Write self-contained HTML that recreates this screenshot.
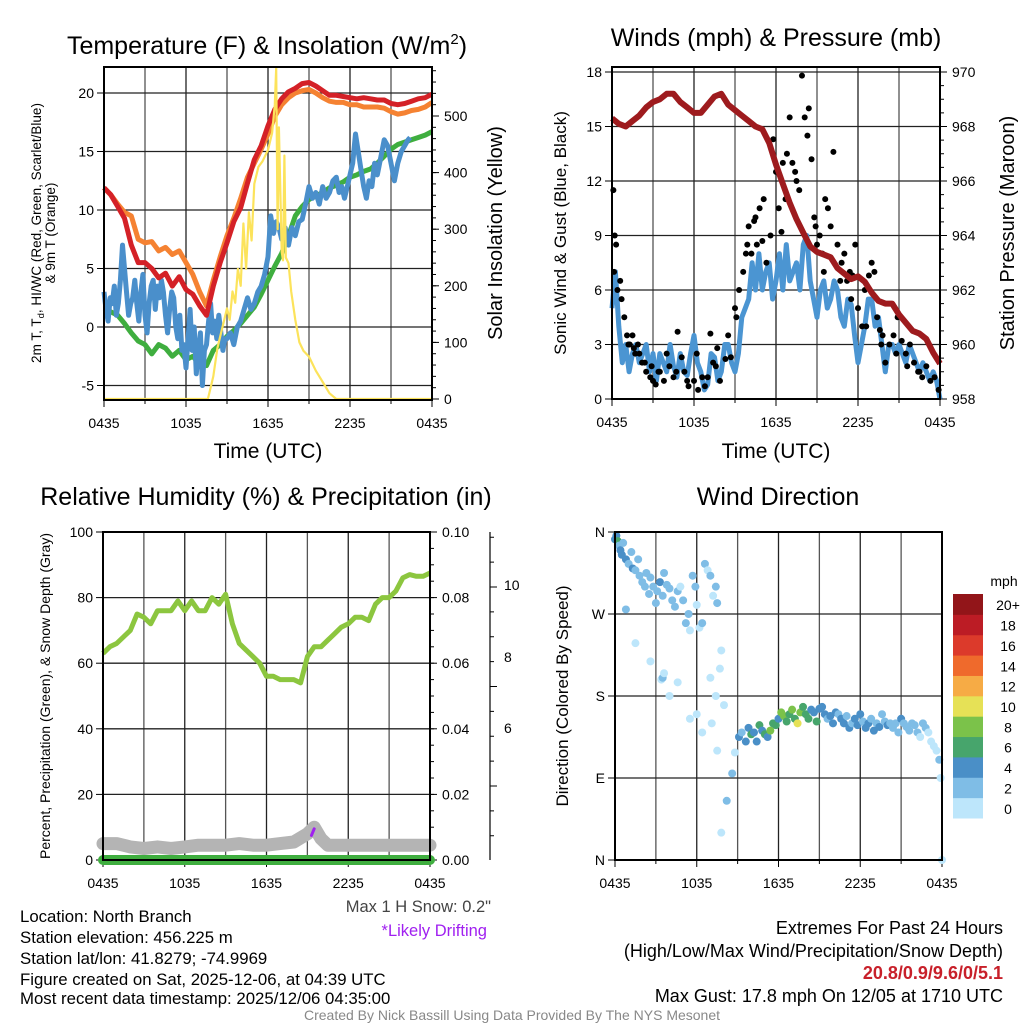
<!DOCTYPE html>
<html><head><meta charset="utf-8"><style>
html,body{margin:0;padding:0;background:#fff;}
svg{display:block;font-family:"Liberation Sans",Arial,sans-serif;}
</style></head><body>
<svg id="fig" width="1024" height="1024" viewBox="0 0 1024 1024" xmlns="http://www.w3.org/2000/svg">
<rect width="1024" height="1024" fill="#fff"/>
<g id="layer"></g>
<text x="267" y="54" font-size="25" text-anchor="middle">Temperature (F) &amp; Insolation (W/m<tspan font-size="15" dy="-10">2</tspan><tspan dy="10">)</tspan></text>
<text x="776" y="46" font-size="25" text-anchor="middle">Winds (mph) &amp; Pressure (mb)</text>
<text x="266" y="505" font-size="25" text-anchor="middle">Relative Humidity (%) &amp; Precipitation (in)</text>
<text x="778" y="505" font-size="25" text-anchor="middle">Wind Direction</text>
<text x="268" y="458" font-size="21" text-anchor="middle">Time (UTC)</text>
<text x="776" y="458" font-size="21" text-anchor="middle">Time (UTC)</text>
<text transform="translate(41,233) rotate(-90)" font-size="13.5" text-anchor="middle">2m T, T<tspan font-size="9.5" dy="3">d</tspan><tspan dy="-3">, HI/WC (Red, Green, Scarlet/Blue)</tspan></text>
<text transform="translate(55,233) rotate(-90)" font-size="13.5" text-anchor="middle">&amp; 9m T (Orange)</text>
<text transform="translate(502,233) rotate(-90)" font-size="20" text-anchor="middle">Solar Insolation (Yellow)</text>
<text transform="translate(566,233) rotate(-90)" font-size="17" text-anchor="middle">Sonic Wind &amp; Gust (Blue, Black)</text>
<text transform="translate(1014,233) rotate(-90)" font-size="20" text-anchor="middle">Station Pressure (Maroon)</text>
<text transform="translate(50,696) rotate(-90)" font-size="14" text-anchor="middle">Percent, Precipitation (Green), &amp; Snow Depth (Gray)</text>
<text transform="translate(568,696) rotate(-90)" font-size="17" text-anchor="middle">Direction (Colored By Speed)</text>
<text x="1004" y="586" font-size="14" text-anchor="middle">mph</text>
<g font-size="16.8" fill="#000">
<text x="20" y="922">Location: North Branch</text>
<text x="20" y="943">Station elevation: 456.225 m</text>
<text x="20" y="964">Station lat/lon: 41.8279; -74.9969</text>
<text x="20" y="985">Figure created on Sat, 2025-12-06, at 04:39 UTC</text>
<text x="20" y="1004">Most recent data timestamp: 2025/12/06 04:35:00</text>
</g>
<g font-size="16.5">
<text x="491" y="912" text-anchor="end" fill="#444">Max 1 H Snow: 0.2"</text>
<text x="487" y="936" text-anchor="end" fill="#a020f0">*Likely Drifting</text>
</g>
<g font-size="18" fill="#000">
<text x="1003" y="934" text-anchor="end">Extremes For Past 24 Hours</text>
<text x="1003" y="957" text-anchor="end">(High/Low/Max Wind/Precipitation/Snow Depth)</text>
<text x="1003" y="979" text-anchor="end" fill="#c8202a" font-weight="bold">20.8/0.9/9.6/0/5.1</text>
<text x="1003" y="1002" text-anchor="end">Max Gust: 17.8 mph On 12/05 at 1710 UTC</text>
</g>
<text x="512" y="1020" font-size="14" fill="#888" text-anchor="middle">Created By Nick Bassill Using Data Provided By The NYS Mesonet</text>
</svg>
<script>
// ---------- data ----------
const hh = [0,0.5,1,1.5,2,2.5,3,3.5,4,4.5,5,5.5,6,6.5,7,7.5,8,8.5,9,9.5,10,10.5,11,11.5,12,12.5,13,13.5,14,14.5,15,15.5,16,16.5,17,17.5,18,18.5,19,19.5,20,20.5,21,21.5,22,22.5,23,23.5,24];
const tempRed = [11.9,11.3,10.3,9.3,7,5.5,5.5,5.0,4.2,4.6,3.5,4.3,3.2,2.8,1.8,1.0,3.5,5.5,7.2,9,10.2,12.3,14.3,15.5,17.2,18.6,19.5,20.1,20.4,20.8,20.9,20.6,20.2,19.8,19.8,19.7,19.6,19.5,19.6,19.5,19.4,19.4,19.1,19.0,19.1,19.3,19.5,19.6,19.9];
const temp9m = [11.9,11.3,10.5,9.8,9.5,7.5,7.2,7.3,6.5,6.8,6.2,6.5,5.5,4.5,3,1.8,4,6,7.8,9.3,11,12.8,14,15.2,16.5,18,19,19.6,20,20.2,20.3,20,19.6,19.3,19.2,19.2,19,19,18.8,18.8,18.8,18.7,18.4,18.2,18.3,18.5,18.6,18.8,19.2];
const dewpt = [1.6,1.3,1.0,0.3,-0.5,-1.2,-1.5,-2.3,-1.5,-1.8,-2.5,-2.0,-2.8,-2.5,-3.2,-3.3,-2.0,-1.5,-0.8,-0.3,0.3,1,1.7,2.8,4,5.2,6.3,7.8,9.5,10.3,10.9,11.2,11.5,11.9,12.1,12.4,12.8,13.0,13.3,13.5,14.0,14.6,15.2,15.6,15.8,16.0,16.2,16.4,16.7];
const wcHours = [0,0.15,0.3,0.45,0.6,0.75,0.9,1.05,1.2,1.35,1.5,1.65,1.8,1.95,2.1,2.25,2.4,2.55,2.7,2.85,3,3.15,3.3,3.45,3.6,3.75,3.9,4.05,4.2,4.35,4.5,4.65,4.8,4.95,5.1,5.25,5.4,5.55,5.7,5.85,6,6.15,6.3,6.45,6.6,6.75,6.9,7.05,7.2,7.35,7.5,7.65,7.8,7.95,8.1,8.25,8.4,8.55,8.7,8.85,9,9.25,9.5,9.75,10,10.25,10.5,10.75,11,11.25,11.5,11.75,12,12.2,12.4,12.6,12.8,13,13.25,13.5,13.75,14,14.25,14.5,14.75,15,15.25,15.5,15.75,16,16.25,16.5,16.75,17,17.2,17.4,17.6,17.8,18,18.2,18.4,18.6,18.8,19,19.2,19.4,19.6,19.8,20,20.25,20.5,20.75,21,21.25,21.5,21.75,22,22.25,22.4];
const windChill = [3,1.5,0.5,2.5,2,3.5,1,2,4,7,5,3,1,2,2.5,4,2,0.5,3,4.5,1,-0.5,2,3.5,4,1.5,3.5,2.5,4,3,1,-0.5,1.5,3,2.5,0,-1,1,-2,-1.5,-3.5,-1,1.5,-2,0,-4,-2,-0.5,-5,-2,-1.5,0.5,2,-0.5,0.5,-1,1,-0.5,-2,-1,-1,-0.5,-1.5,0,0.5,1.5,2.5,1.5,2,3,3.5,4.5,6,9.5,8,9,8.5,7.5,8.5,7,8.5,7.8,9,9.2,10.5,12,11,11.5,10.5,12,11,11.5,12.5,12.8,11.5,12,11,12,13,14,16.5,15,13.5,12,11,12.5,12,14,13,14.5,16,15.5,14,12.5,14,15,15.5,16,16.2];
const insolHours = [0,7.6,8,8.3,8.6,9,9.2,9.4,9.6,9.8,10,10.2,10.4,10.6,10.8,11,11.3,11.6,12,12.3,12.5,12.6,12.7,12.8,13,13.1,13.2,13.3,13.5,13.7,14,14.3,14.6,15,15.5,16,16.5,17,24];
const insolVals = [0,0,40,90,120,160,140,190,170,230,200,310,230,330,280,380,410,420,440,470,520,585,300,480,260,245,430,250,240,190,140,100,85,75,50,30,10,0,0];
const windHours = [0,0.25,0.5,0.75,1,1.25,1.5,1.75,2,2.25,2.5,2.75,3,3.25,3.5,3.75,4,4.25,4.5,4.75,5,5.25,5.5,5.75,6,6.25,6.5,6.75,7,7.25,7.5,7.75,8,8.25,8.5,8.75,9,9.25,9.5,9.75,10,10.25,10.5,10.75,11,11.25,11.5,11.75,12,12.25,12.5,12.75,13,13.25,13.5,13.75,14,14.25,14.5,14.75,15,15.25,15.5,15.75,16,16.25,16.5,16.75,17,17.25,17.5,17.75,18,18.25,18.5,18.75,19,19.25,19.5,19.75,20,20.25,20.5,20.75,21,21.25,21.5,21.75,22,22.25,22.5,22.75,23,23.25,23.5,23.75,24];
const windSpd = [5,7,4,2,3,1.5,2.5,3,2,2.5,3,1.5,2.5,1,2.5,2,1.5,3,1.8,1.2,2.5,1.5,1.3,2.5,3.5,2,1.5,0.5,0.8,2.5,2.3,1,1.5,3,3,2,1.5,2.5,4.5,5,5.5,7.5,6,8,6,7,7.5,5.5,6.5,8,6,8.5,6.5,7,7.5,6,8.5,9,6.5,5.5,4.5,6,6.5,5,5.5,6.5,6,4.5,4,5.5,5.2,3.5,2,3,4,5.5,5.5,4,4.5,3,1.5,3,3,2.5,3,2.5,2,3,2.5,2,1.5,2,1.5,1,1.5,1,0];
const pressure = [968.3,968.1,968.0,968.2,968.4,968.7,968.9,969.0,969.2,969.2,968.9,968.7,968.5,968.5,968.8,969.1,969.2,968.8,968.6,968.4,968.2,968.0,967.9,967.4,966.6,965.9,965.2,964.6,964.1,963.6,963.4,963.3,963.2,962.8,962.6,962.4,962.5,962.3,961.9,961.6,961.5,961.5,961.1,960.8,960.5,960.4,960.2,959.7,959.3];
const gustHours = [0.1,0.2,0.3,0.15,0.4,0.6,0.7,0.9,1.1,1.3,1.5,1.7,1.9,2.2,2.5,2.8,3.0,3.2,3.5,3.8,4.2,4.5,4.8,5.1,5.3,5.6,6.0,6.3,6.6,6.8,7.2,7.4,7.6,7.9,8.3,8.7,9.0,9.3,9.6,9.8,10.0,10.2,10.4,10.6,10.8,11.0,11.3,11.6,11.8,12.0,12.2,12.4,12.5,12.8,13.0,13.2,13.5,13.7,13.9,14.1,14.3,14.4,14.6,14.8,15.0,15.2,15.4,15.6,15.8,16.0,16.2,16.5,16.8,17.0,17.2,17.4,17.6,17.8,18.0,18.3,18.5,18.8,19.0,19.2,19.4,19.6,19.8,20.0,20.3,20.6,20.9,21.2,21.5,21.8,22.1,22.4,22.7,23.0,23.3,23.6,23.9,1.2,1.6,2.0,2.4,2.9,3.4,4.0,4.7,5.5,6.2,7.0,7.7,8.5,9.1,9.9,10.5,11.1,12.7,13.4,14.9,15.5,16.7,17.5,18.6,19.7,20.8,21.6,22.5,23.2];
const gustVals = [11.5,9,8.5,7,6,6.5,5.5,4.5,3.5,3,3.5,2.5,3,2,1.5,1.2,1,0.8,1.5,1,1.8,1.2,3.7,2.3,1.5,0.7,1,0.5,1.2,0.7,3.6,2,1.8,1.0,2.2,2.3,5,6,7,8,9.5,8,9.8,8.5,10.5,8.7,7.5,9,14.3,12.5,10.5,9.2,13,13.5,15.5,13,12,11.5,17.8,15.5,14.5,16,13.2,10,8.5,9,8,11,10.5,9.5,13.6,8.5,7.5,8,6.5,7,6.8,8.5,5,4,6,6.8,7.5,7,4.5,3.8,3.5,2,3,3.5,4.5,3.2,2.5,3,2,1.5,1.2,1.8,1,1.2,0.5,3,2.8,2.5,2,1.8,1.5,2.5,1.5,1,2.5,1.2,2.8,3.5,4.5,8.5,10,11,11,12.5,9.5,7,6.5,5.5,4,3,2.5,1.8,1.5];
const rh = [63,65,66,68,70,75,74,72,76,76,76,79,76,79,76,76,80,78,81,72,66,64,62,60,56,56,55,55,55,54,62,65,65,67,69,71,72,74,74,73,78,80,80,82,86,87,86.5,86.5,87.5];
const snowHours = [0,1,2,3,4,5,6,7,8,9,10,11,12,13,14,15,15.5,16,16.5,17,18,20,22,24];
const snowDepth = [5,5,4,3.5,4,3.5,4,4.5,4.5,4.5,5,4.5,4.5,5,5.5,8,10,6.5,4.5,4.5,4.5,4.5,4.5,4.5];
const precip = [0,0];
const dirHours = [0,0.1,0.2,0.3,0.4,0.5,0.6,0.8,1,1.2,1.3,1.5,1.7,1.8,2,2.2,2.3,2.5,2.6,2.8,3,3.1,3.3,3.5,3.6,3.8,4,4.2,4.4,4.6,4.8,5,5.2,5.4,5.5,5.7,5.9,6,6.2,6.4,6.6,6.8,7,7.2,7.4,7.5,7.7,7.8,8,0.8,1.5,2.6,3.4,3.5,3.6,4.0,4.6,5.5,6.0,6.4,7.1,7.5,9.1,9.3,9.6,9.8,10,10.2,10.4,10.6,10.8,11,11.2,11.4,11.6,11.8,12,12.2,12.4,12.6,12.8,13,13.2,13.4,13.6,13.8,14,14.2,14.4,14.6,14.8,15,15.2,15.4,15.6,15.8,16,16.2,16.4,16.6,16.8,17,17.2,17.4,17.6,17.8,18,18.2,18.4,18.6,18.8,19,19.2,19.4,19.6,19.8,20,20.2,20.4,20.6,20.8,21,21.2,21.4,21.6,21.8,22,22.2,22.4,22.6,22.8,23,23.2,23.4,23.6,23.8,23.9,24,8.8,8.6,8.2,7.8,7.4,7.0];
const dirDeg = [352,356,350,345,340,335,348,330,325,338,320,318,330,312,305,300,315,292,310,300,282,295,305,290,315,302,298,285,278,295,300,285,260,270,252,312,300,280,255,260,325,318,312,290,300,282,210,230,170,275,238,218,198,200,205,180,195,155,160,140,150,120,135,140,130,145,138,140,130,148,142,138,135,142,150,148,155,162,158,152,160,165,155,150,162,168,160,155,165,162,152,166,168,160,155,158,150,162,160,155,150,158,145,150,155,148,160,152,145,150,155,142,150,146,160,152,148,150,145,150,140,155,150,146,142,150,148,140,135,150,145,140,130,125,120,110,90,0,118,95,65,30,180,200];
const dirSpd = [4,5,6,3,4,4,3,4,3,2,4,3,2,3,2,3,2,2,3,2,3,2,4,2,3,3,2,3,2,2,1,2,3,2,1,3,2,1,1,2,3,1,2,1,3,2,1,1,1,2,1,1,1,2,1,1,1,1,1,1,1,1,4,3,5,4,6,4,5,6,4,7,5,8,6,7,5,8,9,7,6,8,7,10,8,6,7,6,5,4,6,4,5,4,3,4,5,4,3,4,4,3,4,3,5,4,4,3,4,4,3,4,3,4,2,3,4,3,3,2,3,4,3,2,2,3,2,2,1,2,2,1,1,1,1,2,1,1,1,2,2,1,0,1,1];
const spdColors = ['#bde6fb','#7fbde6','#4a8fc7','#47a56c','#7bc24a','#e6e156','#f6ab45','#ef6a2c','#dc3a2b','#bc1c25','#921519'];
const spdLabels = ['0','2','4','6','8','10','12','14','16','18','20+'];

// ---------- helpers ----------
const NS='http://www.w3.org/2000/svg';
const layer=document.getElementById('layer');
function mk(tag,attrs,parent){const e=document.createElementNS(NS,tag);for(const k in attrs)e.setAttribute(k,attrs[k]);(parent||layer).appendChild(e);return e;}
function lin(d0,d1,r0,r1){return v=>r0+(v-d0)/(d1-d0)*(r1-r0);}
function path(xs,ys,sx,sy){const n=Math.min(xs.length,ys.length);return xs.slice(0,n).map((x,i)=>(i?'L':'M')+sx(x).toFixed(1)+','+sy(ys[i]).toFixed(1)).join('');}
const xTickLabels=['0435','1035','1635','2235','0435'];

function frame(x0,y0,x1,y1,yTicks,ySc,yLab,name){
  const g=mk('g',{});
  
  
  const sx=lin(0,24,x0,x1);
  for(let h=3;h<24;h+=3){const l=mk('line',{x1:sx(h),x2:sx(h),y1:y0,y2:y1,stroke:(h%6?'#555':'#222'),'stroke-width':1.3},g);
    }
  yTicks.forEach((t,i)=>{const y=ySc(t);
    if(y>y0+1&&y<y1-1){const l=mk('line',{x1:x0,x2:x1,y1:y,y2:y,stroke:'#222','stroke-width':1.3},g);
      }
    mk('line',{x1:x0-7,x2:x0,y1:y,y2:y,stroke:'#000','stroke-width':1},g);
    if(yLab){const t2=mk('text',{x:x0-10,y:y+5,'font-size':14,'text-anchor':'end'},g);t2.textContent=yLab[i];
      }
  });
  for(let h=0;h<=24;h+=3){mk('line',{x1:sx(h),x2:sx(h),y1:y1,y2:y1+(h%6?4:7),stroke:'#000'},g);}
  xTickLabels.forEach((s,i)=>{const t=mk('text',{x:sx(i*6),y:y1+28,'font-size':14,'text-anchor':'middle'},g);t.textContent=s;
    });
  return {g,sx};
}
function border(x0,y0,x1,y1,name){const r=mk('rect',{x:x0,y:y0,width:x1-x0,height:y1-y0,fill:'none',stroke:'#000','stroke-width':2});
  }
function rightAxis(x,y0,y1,ticks,sc,labels,minor,name){
  const g=mk('g',{});
  
  
  minor.forEach(t=>mk('line',{x1:x,x2:x+4,y1:sc(t),y2:sc(t),stroke:'#000'},g));
  ticks.forEach((t,i)=>{mk('line',{x1:x,x2:x+7,y1:sc(t),y2:sc(t),stroke:'#000'},g);
    const tx=mk('text',{x:x+12,y:sc(t)+5,'font-size':14},g);tx.textContent=labels[i];
    });
}
function range(a,b,s){const r=[];for(let v=a;v<=b+1e-9;v+=s)r.push(+v.toFixed(4));return r;}

// ---------- Panel 1: temperature ----------
{const X0=104,X1=432,Y0=67,Y1=400;
 const sy=lin(0,20,327,93), sr=lin(0,500,399,116);
 const f=frame(X0,Y0,X1,Y1,[-5,0,5,10,15,20],sy,['-5','0','5','10','15','20'],'temperature');
 rightAxis(X1,Y0,Y1,[0,100,200,300,400,500],sr,['0','100','200','300','400','500'],range(0,580,20),'insolation-axis');
 const sx=f.sx;
 const s1=mk('path',{d:path(hh,dewpt,sx,sy),fill:'none',stroke:'#3fae3f','stroke-width':5,'stroke-linejoin':'round'});
 
 const s2=mk('path',{d:path(wcHours,windChill,sx,sy),fill:'none',stroke:'#4a8fcb','stroke-width':5,'stroke-linejoin':'round'});
 
 const s3=mk('path',{d:path(hh,temp9m,sx,sy),fill:'none',stroke:'#f58232','stroke-width':5,'stroke-linejoin':'round'});
 
 const s4=mk('path',{d:path(hh,tempRed,sx,sy),fill:'none',stroke:'#d42127','stroke-width':5,'stroke-linejoin':'round'});
 
 const s5=mk('path',{d:path(insolHours,insolVals,sx,sr),fill:'none',stroke:'#fce35b','stroke-width':2.2,'stroke-linejoin':'round'});
 
 border(X0,Y0,X1,Y1,'temperature');}

// ---------- Panel 2: winds ----------
{const X0=612,X1=940,Y0=67,Y1=399;
 const sy=lin(0,18,399,72), sr=lin(958,970,399,72);
 const f=frame(X0,Y0,X1,Y1,[0,3,6,9,12,15,18],sy,['0','3','6','9','12','15','18'],'winds');
 rightAxis(X1,Y0,Y1,[958,960,962,964,966,968,970],sr,['958','960','962','964','966','968','970'],range(958,970,0.5),'pressure-axis');
 const sx=f.sx;
 const w=mk('path',{d:path(windHours,windSpd,sx,sy),fill:'none',stroke:'#4b95d2','stroke-width':5,'stroke-linejoin':'round'});
 
 gustHours.forEach((h,i)=>{if(gustVals[i]===undefined)return;
   const c=mk('circle',{cx:sx(h),cy:sy(gustVals[i]),r:3,fill:'#000'});
   });
 const p=mk('path',{d:path(hh,pressure,sx,sr),fill:'none',stroke:'#9e1b1e','stroke-width':6,'stroke-linejoin':'round'});
 
 border(X0,Y0,X1,Y1,'winds');}

// ---------- Panel 3: humidity ----------
{const X0=103,X1=430,Y0=532,Y1=860;
 const sy=lin(0,100,860,532), sr=lin(0,0.1,860,532);
 const f=frame(X0,Y0,X1,Y1,[0,20,40,60,80,100],sy,['0','20','40','60','80','100'],'humidity');
 rightAxis(X1,Y0,Y1,[0,0.02,0.04,0.06,0.08,0.1],sr,['0.00','0.02','0.04','0.06','0.08','0.10'],range(0,0.1,0.005),'precip-axis');
 const sx=f.sx;
 const g=mk('g',{});
 
 mk('line',{x1:490,x2:490,y1:532,y2:860,stroke:'#000','stroke-width':1.2},g);
 const sd=lin(6,10,786,587);
 range(4,12.5,0.5).forEach(v=>{const y=sd(v);if(y>=532&&y<=860)mk('line',{x1:490,x2:(v%2===0?497:494),y1:y,y2:y,stroke:'#000'},g);});
 [['10',590],['8',662],['6',733]].forEach(a=>{const t=mk('text',{x:504,y:a[1],'font-size':14},g);t.textContent=a[0];
   });
 const sn=mk('path',{d:path(snowHours,snowDepth,sx,sy),fill:'none',stroke:'#b4b4b4','stroke-width':13,'stroke-linejoin':'round','stroke-linecap':'round'});
 
 const pr=mk('path',{d:path([0,24],precip,sx,sr),fill:'none',stroke:'#3fae3f','stroke-width':10,'stroke-linecap':'round'});
 
 const pu=mk('line',{x1:sx(15.3),x2:sx(15.5),y1:sy(7.5),y2:sy(9.5),stroke:'#a020f0','stroke-width':3,'stroke-linecap':'round'});
 
 const r=mk('path',{d:path(hh,rh,sx,sy),fill:'none',stroke:'#8cc63f','stroke-width':5,'stroke-linejoin':'round'});
 
 border(X0,Y0,X1,Y1,'humidity');}

// ---------- Panel 4: wind direction ----------
{const X0=615,X1=942,Y0=532,Y1=860;
 const sy=lin(0,360,860,532);
 const f=frame(X0,Y0,X1,Y1,[0,90,180,270,360],sy,['N','E','S','W','N'],'direction');
 const sx=f.sx;
 dirHours.forEach((h,i)=>{if(dirDeg[i]===undefined)return;
   const ci=Math.min(10,Math.floor((dirSpd[i]||0)/2));
   const c=mk('circle',{cx:sx(h),cy:sy(dirDeg[i]),r:4,fill:spdColors[ci]});
   });
 border(X0,Y0,X1,Y1,'direction');
 const cb=mk('g',{});
 
 const bh=(818-594)/11;
 spdColors.forEach((c,i)=>{const y=818-(i+1)*bh;
   const r=mk('rect',{x:953,y:y,width:30,height:bh+0.5,fill:c},cb);
   
   const t=mk('text',{x:1008,y:y+bh/2+6,'font-size':14,'text-anchor':'middle'},cb);t.textContent=spdLabels[i];
   });
}
</script>
</body></html>
